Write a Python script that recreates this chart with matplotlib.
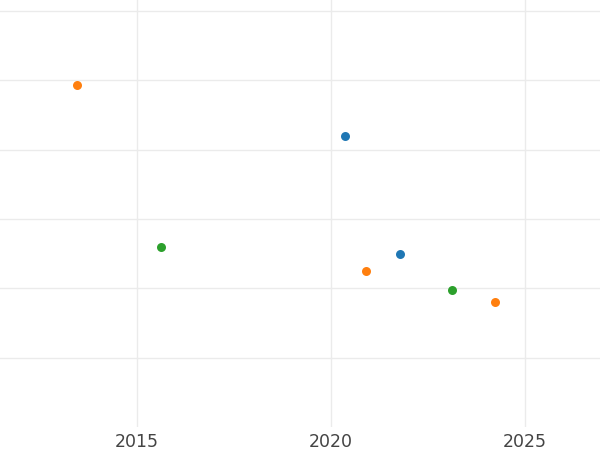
import matplotlib
matplotlib.use("Agg")
import matplotlib.pyplot as plt

# three series, year vs value
blue_x = [2020.35, 2021.78]
blue_y = [42.0, 25.0]
orange_x = [2013.45, 2020.90, 2024.22]
orange_y = [49.3, 22.5, 18.1]
green_x = [2015.62, 2023.12]
green_y = [25.9, 19.8]

xticks = [2015, 2020, 2025]
yticks = [10, 20, 30, 40, 50, 60]

fig = plt.figure(figsize=(6, 4.5), dpi=100)
ax = fig.add_axes([0, 23 / 450, 1, 427 / 450])

ax.scatter(blue_x, blue_y, s=42, color="#1f77b4", zorder=3, linewidths=0)
ax.scatter(orange_x, orange_y, s=42, color="#ff7f0e", zorder=3, linewidths=0)
ax.scatter(green_x, green_y, s=42, color="#2ca02c", zorder=3, linewidths=0)

ax.set_xlim(2011.47, 2026.93)
ax.set_ylim(0, 61.6)
ax.set_xticks(xticks)
ax.set_xticklabels([str(t) for t in xticks])
ax.set_yticks(yticks)
ax.set_yticklabels([])
ax.tick_params(length=0, labelsize=12.5, labelcolor="#444444", pad=4)
ax.grid(True, color="#ebebeb", linewidth=1.0)
ax.set_axisbelow(True)
for s in ax.spines.values():
    s.set_visible(False)

fig.savefig("out.png", dpi=100)
